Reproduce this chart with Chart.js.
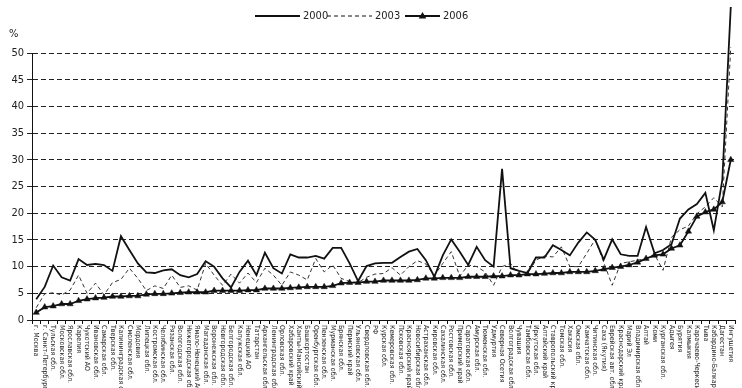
<!DOCTYPE html>
<html><head><meta charset="utf-8">
<script src="https://cdn.jsdelivr.net/npm/chart.js@4/dist/chart.umd.min.js"></script>
<style>html,body{margin:0;padding:0;background:#fff}#wrap{width:742px;height:388px;position:relative}</style>
</head><body><div id="wrap"><canvas id="c" width="742" height="388"></canvas></div>
<script>
const regions = ["г. Москва","г. Санкт-Петербург","Тульская обл.","Московская обл.","Ярославская обл.","Карелия","Чукотский АО","Ивановская обл.","Самарская обл.","Тверская обл.","Калининградская обл.","Смоленская обл.","Мордовия","Липецкая обл.","Костромская обл.","Челябинская обл.","Рязанская обл.","Вологодская обл.","Нижегородская обл.","Ямало-Ненецкий АО","Магаданская обл.","Воронежская обл.","Новгородская обл.","Белгородская обл.","Калужская обл.","Ненецкий АО","Татарстан","Архангельская обл.","Ленинградская обл.","Орловская обл.","Хабаровский край","Ханты-Мансийский АО","Башкортостан","Оренбургская обл.","Пензенская обл.","Мурманская обл.","Брянская обл.","Пермский край","Ульяновская обл.","Свердловская обл.","РФ","Курская обл.","Кемеровская обл.","Псковская обл.","Красноярский край","Новосибирская обл.","Астраханская обл.","Кировская обл.","Сахалинская обл.","Ростовская обл.","Приморский край","Саратовская обл.","Амурская обл.","Тюменская обл.","Удмуртия","Северная Осетия","Волгоградская обл.","Чувашия","Тамбовская обл.","Иркутская обл.","Алтайский край","Ставропольский край","Томская обл.","Хакасия","Омская обл.","Камчатская обл.","Читинская обл.","Саха (Якутия)","Еврейская авт. обл.","Краснодарский край","Марий Эл","Владимирская обл.","Алтай","Коми","Курганская обл.","Адыгея","Бурятия","Калмыкия","Карачаево-Черкесия","Тыва","Кабардино-Балкария","Дагестан","Ингушетия"];

const values2000 = [3.9,6.2,10.2,8.0,7.4,11.4,10.3,10.5,10.3,9.2,15.7,13.1,10.6,8.9,8.8,9.3,
9.5,8.4,8.0,8.6,11.0,10.0,7.8,6.1,9.0,11.1,8.4,12.6,9.7,8.7,12.3,11.7,
11.7,12.0,11.5,13.5,13.5,10.6,7.3,10.1,10.6,10.7,10.7,11.8,12.8,13.3,11.2,8.1,
12.1,15.1,12.8,10.3,13.7,11.2,10.0,28.3,9.7,9.2,8.8,11.7,11.7,14.0,13.1,12.1,
14.5,16.4,15.0,11.3,15.1,12.3,12.0,12.0,17.4,12.5,13.1,14.2,19.0,20.7,21.7,23.8,16.8,26.2,58.6];

const values2003 = [2.3,4.9,5.1,4.7,5.6,8.4,5.0,6.9,4.7,7.0,7.6,9.7,7.8,5.5,6.4,5.9,
8.4,6.1,6.4,5.6,10.6,8.4,6.5,8.6,6.9,8.8,7.0,9.7,8.4,6.5,9.0,8.4,
7.5,11.5,9.0,10.3,7.8,7.2,7.0,8.0,8.6,8.7,9.8,8.4,10.0,11.1,10.5,8.3,
10.6,12.8,8.2,10.3,10.0,9.0,6.5,10.0,10.6,8.4,8.7,11.2,12.0,11.8,13.7,10.0,
10.0,12.5,15.1,10.8,6.5,10.6,10.9,11.2,11.5,12.3,9.3,15.5,16.9,17.6,19.9,21.2,22.9,21.2,51.1];

const values2006 = [1.4,2.4,2.6,3.0,3.0,3.6,3.9,4.1,4.2,4.4,4.4,4.5,4.5,4.8,4.9,4.9,
5.0,5.1,5.2,5.2,5.2,5.5,5.5,5.5,5.5,5.6,5.6,5.9,5.9,5.9,6.0,6.1,
6.2,6.2,6.2,6.4,6.9,7.0,7.0,7.2,7.2,7.4,7.4,7.4,7.4,7.5,7.8,7.8,
7.9,7.9,7.9,8.1,8.1,8.1,8.2,8.2,8.4,8.4,8.6,8.6,8.7,8.8,8.8,9.0,
9.0,9.0,9.2,9.5,9.8,10.0,10.3,10.8,11.5,12.1,12.3,13.4,14.0,16.6,19.4,20.2,20.7,22.1,30.0];

const seriesNames = ["2000","2003","2006"];
const yTickValues = [0,5,10,15,20,25,30,35,40,45,50];
const yUnit = "%";

const FONT = '"Liberation Sans Narrow","DejaVu Sans Condensed","Liberation Sans",sans-serif';
const INK = '#111';

const extras = {
  id: 'extras',
  afterDraw(chart) {
    const ctx = chart.ctx;
    const xs = chart.scales.x;
    ctx.save();
    ctx.fillStyle = '#222';
    ctx.font = '7px ' + FONT;
    ctx.textAlign = 'left';
    ctx.textBaseline = 'middle';
    regions.forEach((r, i) => {
      const x = xs.getPixelForValue(i);
      ctx.save();
      ctx.translate(x, xs.top + 5);
      ctx.rotate(Math.PI / 2);
      ctx.fillText(r, 0, 0);
      ctx.restore();
    });
    // unit
    ctx.font = '11px ' + FONT;
    ctx.textAlign = 'left';
    ctx.textBaseline = 'middle';
    ctx.fillText(yUnit, 9, 34);
    // legend
    const ly = 16;
    const items = [
      {x0: 255, x1: 300, dash: [], w: 1.8, tri: false},
      {x0: 327, x1: 372, dash: [4, 3], w: 1, tri: false},
      {x0: 405, x1: 440, dash: [], w: 1.8, tri: true}
    ];
    items.forEach((it, k) => {
      ctx.save();
      ctx.strokeStyle = INK;
      ctx.lineWidth = it.w;
      ctx.setLineDash(it.dash);
      ctx.beginPath(); ctx.moveTo(it.x0, ly); ctx.lineTo(it.x1, ly); ctx.stroke();
      ctx.restore();
      if (it.tri) {
        const cx = (it.x0 + it.x1) / 2;
        ctx.beginPath();
        ctx.moveTo(cx, ly - 4); ctx.lineTo(cx + 3.8, ly + 2.5); ctx.lineTo(cx - 3.8, ly + 2.5); ctx.closePath();
        ctx.fillStyle = INK; ctx.fill();
      }
      ctx.fillStyle = '#222';
      ctx.font = '11px ' + FONT;
      ctx.fillText(seriesNames[k], it.x1 + 3, ly);
    });
    ctx.restore();
  }
};

new Chart(document.getElementById('c'), {
  type: 'line',
  data: {
    labels: regions,
    datasets: [
      {label: seriesNames[0], data: values2000, borderColor: INK, borderWidth: 1.8, pointRadius: 0, tension: 0, clip: false, order: 1},
      {label: seriesNames[1], data: values2003, borderColor: '#333', borderWidth: 1, borderDash: [4, 3], pointRadius: 0, tension: 0, clip: false, order: 2},
      {label: seriesNames[2], data: values2006, borderColor: INK, borderWidth: 1.8, pointStyle: 'triangle', pointRadius: 3.6, pointBackgroundColor: INK, pointBorderColor: INK, pointBorderWidth: 0.5, tension: 0, clip: false, order: 0}
    ]
  },
  options: {
    responsive: false,
    devicePixelRatio: 1,
    animation: false,
    layout: {padding: {top: 53, right: 7, left: 0, bottom: 0}},
    plugins: {legend: {display: false}, tooltip: {enabled: false}},
    scales: {
      x: {
        type: 'category',
        offset: true,
        grid: {display: true, drawOnChartArea: false, drawTicks: true, tickLength: 4, color: INK, offset: true},
        border: {display: true, color: INK, width: 1},
        ticks: {autoSkip: false, maxRotation: 0, minRotation: 0, callback: () => '', font: {size: 1}},
        afterFit: (s) => { s.height = 68; }
      },
      y: {
        min: 0, max: 50,
        afterBuildTicks: (s) => { s.ticks = yTickValues.map(v => ({value: v})); },
        grid: {color: '#222', lineWidth: 1, tickLength: 5, tickBorderDash: [], drawTicks: true},
        border: {display: true, color: INK, width: 1, dash: [5, 3]},
        ticks: {color: '#222', font: {family: FONT, size: 11}, padding: 3},
        afterFit: (s) => { s.width = 32; }
      }
    }
  },
  plugins: [extras]
});
</script>
</body></html>
